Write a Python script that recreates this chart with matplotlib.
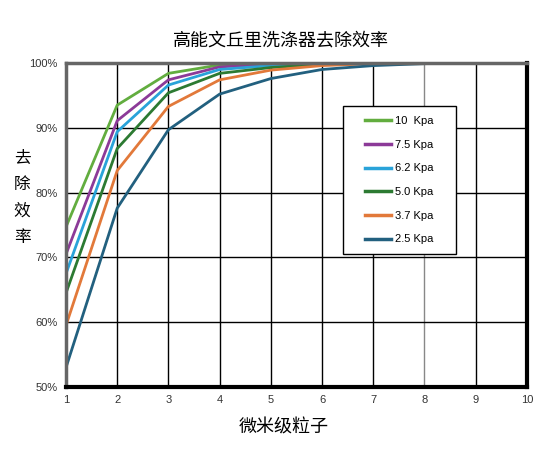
import matplotlib
matplotlib.use('Agg')
import matplotlib.pyplot as plt
from matplotlib.path import Path
from matplotlib.ticker import PercentFormatter

plt.rcParams['font.family'] = ['Liberation Sans', 'Noto Sans CJK SC', 'DejaVu Sans']

# particle size in microns
sizes = [1, 2, 3, 4, 5, 6, 7, 8, 9, 10]

labels = ['10  Kpa', '7.5 Kpa', '6.2 Kpa', '5.0 Kpa', '3.7 Kpa', '2.5 Kpa']
colors = ['#62ad3f', '#8c3a98', '#29a3d9', '#2c7a32', '#e2793a', '#22607f']

eff_10 = [74.7, 93.5, 98.4, 99.7, 100, 100, 100, 100, 100, 100]
eff_75 = [70.5, 91.1, 97.4, 99.4, 99.8, 100, 100, 100, 100, 100]
eff_62 = [67.5, 89.4, 96.6, 99.0, 99.6, 99.9, 100, 100, 100, 100]
eff_50 = [64.5, 86.8, 95.4, 98.4, 99.3, 99.8, 100, 100, 100, 100]
eff_37 = [59.5, 83.4, 93.3, 97.4, 98.9, 99.6, 99.9, 100, 100, 100]
eff_25 = [53.0, 77.6, 89.7, 95.2, 97.6, 99.0, 99.6, 99.9, 100, 100]

series = [eff_10, eff_75, eff_62, eff_50, eff_37, eff_25]

fig = plt.figure(figsize=(5.5, 4.5), dpi=100)
ax = fig.add_axes([0.12, 0.14, 0.838, 0.72])

for vals, lab, col in zip(series, labels, colors):
    ax.plot(sizes, vals, color=col, lw=2, label=lab)

ax.set_xlim(1, 10)
ax.set_ylim(50, 100)
ax.set_xticks(sizes)
ax.set_yticks([50, 60, 70, 80, 90, 100])
ax.yaxis.set_major_formatter(PercentFormatter(decimals=0))
ax.tick_params(length=0, labelsize=8, colors='#333333', pad=6)
ax.grid(True, color='black', lw=1)
ax.get_xgridlines()[7].set_color('#888888')

ax.spines['left'].set_color('#666666')
ax.spines['left'].set_linewidth(2.5)
ax.spines['top'].set_color('#666666')
ax.spines['top'].set_linewidth(2.5)
ax.spines['bottom'].set_linewidth(3)
ax.spines['right'].set_linewidth(3)

# legend frame is padded more at the sides than top/bottom
hpad, vpad = 22, 10


def wide_box(x0, y0, width, height, mutation_size):
    x0, x1 = x0 - hpad, x0 + width + hpad
    y0, y1 = y0 - vpad, y0 + height + vpad
    return Path([(x0, y0), (x1, y0), (x1, y1), (x0, y1), (x0, y0)], closed=True)


ax_w = 0.838 * 550
ax_h = 0.72 * 450
leg = ax.legend(loc='upper left',
                bbox_to_anchor=(0.602 + hpad / ax_w, 0.867 - vpad / ax_h),
                fontsize=8, frameon=True, fancybox=False, edgecolor='black',
                framealpha=1, handlelength=2.3, labelspacing=1.23,
                borderpad=0, handletextpad=0.4, borderaxespad=0)
leg.get_frame().set_linewidth(1)
leg.get_frame().set_boxstyle(wide_box)
for line in leg.get_lines():
    line.set_linewidth(2.5)

cjk = ['Noto Sans CJK SC', 'DejaVu Sans']
fig.text(0.51, 0.91, '高能文丘里洗涤器去除效率', ha='center', va='center',
         fontsize=13, family=cjk)
fig.text(0.04, 0.56, '去\n除\n效\n率', ha='center', va='center',
         fontsize=12, family=cjk, linespacing=1.7)
fig.text(0.515, 0.05, '微米级粒子', ha='center', va='center',
         fontsize=13, family=cjk)

fig.savefig('out.png', dpi=100)
